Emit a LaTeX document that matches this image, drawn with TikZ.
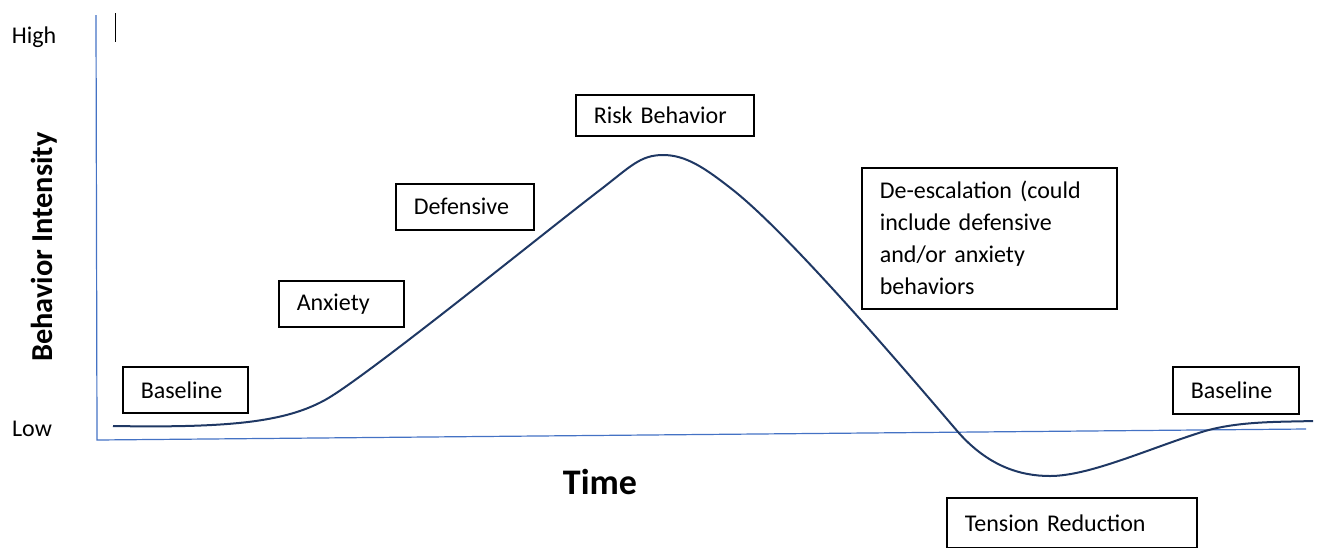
\documentclass[tikz,border=0pt]{standalone}
\usepackage{fontspec}
\setmainfont{Carlito}
\usepackage{xcolor}
\definecolor{axisblue}{HTML}{4472C4}
\definecolor{curvenavy}{HTML}{1F3864}
\usetikzlibrary{positioning}
\tikzset{
  stage/.style={draw, line width=0.8pt, anchor=north west, align=left,
    inner xsep=9pt, inner ysep=0pt, font=\fontsize{12}{16}\selectfont},
  level/.style={font=\fontsize{12}{14}\selectfont},
}

\begin{document}
\begin{tikzpicture}[x=0.5pt, y=-0.5pt] % Behavior escalation curve

      \useasboundingbox (0, 0) rectangle (1321, 547);

      % axes
      \coordinate (top) at (96, 15);
      \coordinate (origin) at (97, 440);
      \coordinate (right) at (1306, 429);
      \draw [axisblue, line width=0.6pt] (top) -- (origin) -- (right);
      \draw [line width=0.5pt] (115, 13) -- (115, 42);

      \node [level] (high) at (34, 37) {High};
      \node [level] (low) at (32, 429) {Low};
      \node [rotate=90, font=\fontsize{15.2}{17}\bfseries] (intensity) at (44, 247) {Behavior Intensity};
      \node [font=\fontsize{18}{20}\bfseries] (time) at (600, 482) {Time};

      % the curve
      \draw [curvenavy, line width=1pt] (113, 426)
        .. controls (230, 428) and (285, 422) .. (325, 400)
        .. controls (365, 378) and (545, 232) .. (600, 190)
        .. controls (630, 167) and (640, 155) .. (663, 155)
        .. controls (686, 155) and (705, 168) .. (733, 190)
        .. controls (790, 235) and (905, 370) .. (958, 432)
        .. controls (988, 466) and (1020, 476) .. (1050, 476)
        .. controls (1090, 476) and (1150, 448) .. (1205, 431)
        .. controls (1240, 421) and (1280, 422) .. (1313, 421);

      % stages
      \node [stage, text width=44.5pt, minimum height=23pt] (base1) at (122, 366) {Baseline};
      \node [stage, text width=44.5pt, minimum height=23pt] (anxiety) at (278, 280) {Anxiety};
      \node [stage, text width=51pt, minimum height=23pt] (defensive) at (395, 183) {Defensive};
      \node [stage, text width=71pt, minimum height=20.5pt] (risk) at (575, 94) {Risk Behavior};
      \node [stage, text width=109.5pt, minimum height=70.5pt] (deesc) at (861, 167)
        {De-escalation (could\\include defensive\\and/or anxiety\\behaviors};
      \node [stage, text width=45pt, minimum height=23.5pt] (base2) at (1172, 366) {Baseline};
      \node [stage, text width=107pt, minimum height=25pt] (tension) at (946, 497) {Tension Reduction};

    \end{tikzpicture}
\end{document}
